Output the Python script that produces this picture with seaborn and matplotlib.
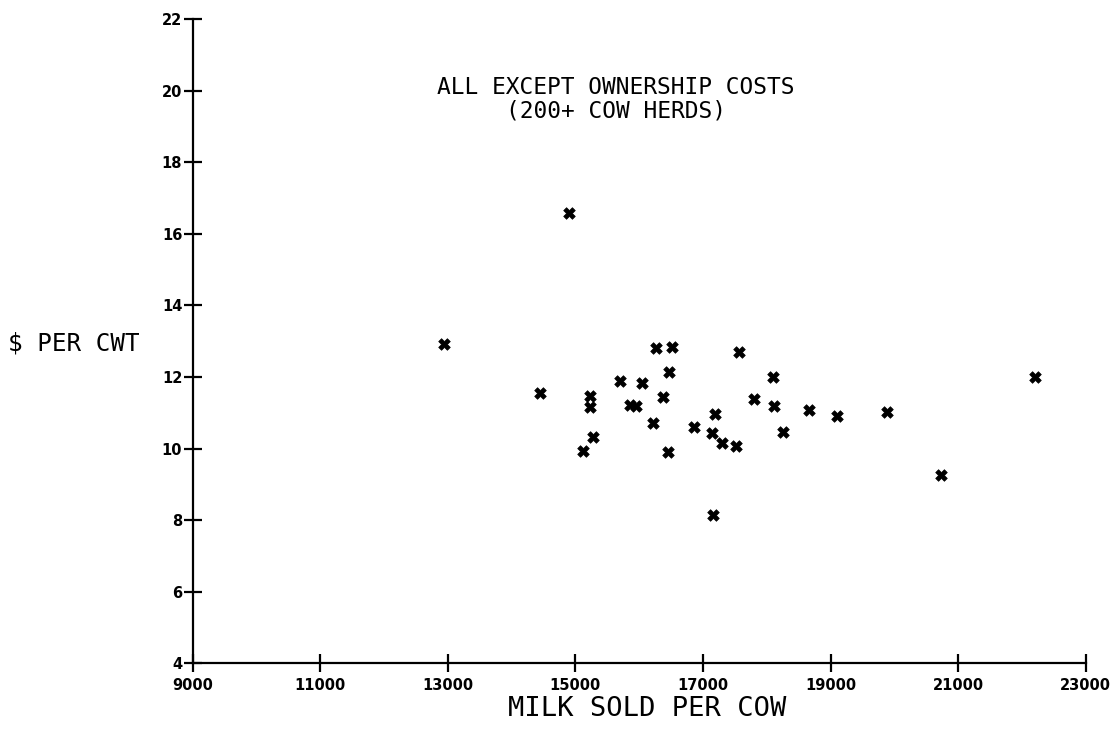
import matplotlib
matplotlib.use("Agg")
import matplotlib.pyplot as plt
import seaborn as sns
import pandas as pd

# Data
milk_sold = [12944, 14444, 14898, 15113, 15227, 15227, 15280, 15697, 15850, 15950,
             16047, 16210, 16262, 16376, 16455, 16470, 16508, 16857, 17144, 17150,
             17187, 17296, 17520, 17567, 17802, 18096, 18107, 18257, 18660, 19099,
             19887, 20729, 22213]
cost_per_cwt = [12.92, 11.55, 16.58, 9.94, 11.47, 11.16, 10.32, 11.90, 11.22, 11.20,
                11.83, 10.73, 12.81, 11.45, 9.91, 12.13, 12.83, 10.60, 10.43, 8.15,
                10.97, 10.17, 10.08, 12.69, 11.38, 11.99, 11.19, 10.47, 11.08, 10.92,
                11.03, 9.27, 12.01]

x_ticks = [9000, 11000, 13000, 15000, 17000, 19000, 21000, 23000]
y_ticks = [4, 6, 8, 10, 12, 14, 16, 18, 20, 22]

title_lines = ["ALL EXCEPT OWNERSHIP COSTS", "(200+ COW HERDS)"]
x_label = "MILK SOLD PER COW"
y_label = "$ PER CWT"

df = pd.DataFrame({"milk": milk_sold, "cost": cost_per_cwt})

sns.set_style("white")
plt.rcParams["font.family"] = ["DejaVu Sans"]
plt.rcParams["text.color"] = "black"

fig = plt.figure(figsize=(11.15, 7.34), dpi=100)
ax = fig.add_axes([0.1728, 0.0961, 0.9737 - 0.1728, 0.974 - 0.0961])

sns.scatterplot(data=df, x="milk", y="cost", ax=ax, marker="X", s=70,
                color="black", edgecolor="black", linewidth=0.5, legend=False)

ax.set_xlim(9000, 23000)
ax.set_ylim(4, 22)
ax.set_xticks(x_ticks)
ax.set_yticks(y_ticks)
ax.set_xticklabels([str(v) for v in x_ticks], fontsize=10.5, fontweight="bold")
ax.set_yticklabels([str(v) for v in y_ticks], fontsize=10.5, fontweight="bold")

for side in ["top", "right"]:
    ax.spines[side].set_visible(False)
for side in ["left", "bottom"]:
    ax.spines[side].set_linewidth(1.6)
    ax.spines[side].set_color("black")

ax.tick_params(axis="both", which="major", bottom=True, left=True,
               direction="inout", length=13, width=1.6, colors="black")
ax.tick_params(axis="x", pad=4)
ax.tick_params(axis="y", pad=1)

ax.set_xlabel("")
ax.set_ylabel("")

mono = "DejaVu Sans Mono"
fig.text(616 / 1115, 1 - 99 / 734, "\n".join(title_lines), ha="center", va="center",
         fontsize=16.5, family=mono, linespacing=1.0, color="black")
fig.text(647 / 1115, 1 - 709 / 734, x_label, ha="center", va="center",
         fontsize=19.5, family=mono, color="black")
fig.text(8 / 1115, 1 - 343 / 734, y_label, ha="left", va="center",
         fontsize=17.5, family=mono, color="black")

fig.savefig("out.png", dpi=100, facecolor="white")
